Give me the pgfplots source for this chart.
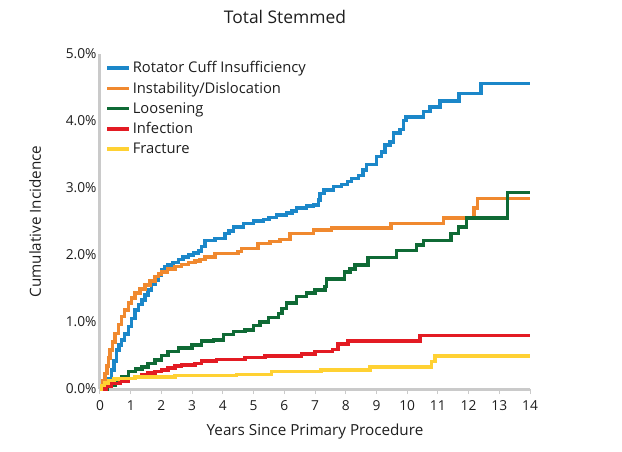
\documentclass[border=0pt]{standalone}
\usepackage{pgfplots}
\pgfplotsset{compat=1.18}
\usepackage{fontspec}
\setmainfont{Open Sans}
\definecolor{cblue}{HTML}{1B87C9}
\definecolor{corange}{HTML}{F0892F}
\definecolor{cgreen}{HTML}{0F6A35}
\definecolor{cred}{HTML}{E31B23}
\definecolor{cyellow}{HTML}{FFD133}
\definecolor{axisgray}{HTML}{CACACA}
\definecolor{txt}{HTML}{1E1E1E}
\begin{document}
\begin{tikzpicture}
\path[use as bounding box] (-100bp,-63bp) rectangle (522bp,389bp);
\begin{axis}[
  scale only axis, width=430bp, height=335bp,
  xmin=0, xmax=14, ymin=0, ymax=5,
  axis x line*=bottom, axis y line*=left,
  axis line style={draw=axisgray, line width=3bp},
  xtick={0,1,...,14}, ytick={0,1,2,3,4,5},
  yticklabels={0.0\%,1.0\%,2.0\%,3.0\%,4.0\%,5.0\%},
  /pgf/number format/assume math mode=true,
  tick label style={font=\fontsize{13.8}{16}\selectfont, text=txt},
  xticklabel style={yshift=-3bp},
  xtick align=outside, major tick length=5bp,
  x tick style={draw=axisgray, line width=1bp},
  y tick style={draw=none},
  xlabel={Years Since Primary Procedure},
  ylabel={Cumulative Incidence},
  xlabel style={at={(axis description cs:0.5,-0.128)}, anchor=center, font=\fontsize{15.3}{18}\selectfont, text=txt},
  ylabel style={at={(axis description cs:-0.151,0.5)}, anchor=center, rotate=0, font=\fontsize{15.3}{18}\selectfont, text=txt},
  clip=false,
  const plot,
  every axis plot/.append style={line width=3.5bp},
  legend style={at={(0.005,0.99)}, anchor=north west, draw=none, fill=none,
    font=\fontsize{14.8}{17}\selectfont, text=txt, row sep=3.7bp},
  legend cell align=left,
  legend image code/.code={\draw[#1, line width=3.5bp] (0bp,0bp) -- (22bp,0bp);},
]
\addplot[cblue] coordinates {
(0,0) (0.08,0.03) (0.16,0.08) (0.25,0.15) (0.38,0.28) (0.46,0.42) (0.54,0.58) (0.62,0.66)
(0.70,0.73) (0.80,0.82) (0.92,0.93) (1.02,1.05) (1.14,1.18) (1.25,1.26) (1.36,1.33) (1.46,1.40)
(1.57,1.48) (1.68,1.56) (1.79,1.63) (1.90,1.70) (2.01,1.78) (2.12,1.82) (2.22,1.85) (2.38,1.89)
(2.55,1.93) (2.70,1.97) (2.88,2.00) (3.05,2.03) (3.20,2.06) (3.30,2.13) (3.42,2.22) (3.74,2.25)
(4.07,2.32) (4.20,2.36) (4.34,2.42) (4.67,2.47) (4.99,2.51) (5.32,2.53) (5.50,2.56) (5.75,2.60)
(6.08,2.63) (6.25,2.66) (6.40,2.70) (6.73,2.73) (6.95,2.75) (7.11,2.82) (7.16,2.92) (7.30,2.97)
(7.60,3.02) (7.87,3.05) (8.05,3.10) (8.19,3.14) (8.41,3.19) (8.57,3.27) (8.68,3.35) (9.00,3.47)
(9.17,3.54) (9.28,3.64) (9.44,3.69) (9.55,3.82) (9.77,3.87) (9.88,4.01) (9.97,4.06) (10.53,4.14)
(10.75,4.21) (11.07,4.30) (11.69,4.41) (12.41,4.56) (14.0,4.56)
};
\addlegendentry{Rotator Cuff Insufficiency}
\addplot[corange] coordinates {
(0,0) (0.05,0.05) (0.10,0.13) (0.16,0.23) (0.22,0.34) (0.28,0.46) (0.33,0.58) (0.41,0.70)
(0.49,0.83) (0.60,0.96) (0.70,1.08) (0.80,1.18) (0.92,1.28) (1.03,1.36) (1.14,1.43) (1.30,1.49)
(1.47,1.55) (1.62,1.61) (1.79,1.68) (1.90,1.72) (2.01,1.75) (2.20,1.79) (2.44,1.83) (2.65,1.86)
(2.88,1.89) (3.10,1.91) (3.26,1.93) (3.42,1.97) (3.74,2.02) (4.50,2.05) (4.60,2.10) (5.15,2.17)
(5.53,2.20) (5.86,2.23) (6.19,2.32) (6.95,2.37) (7.54,2.40) (9.48,2.47) (11.18,2.55) (12.18,2.70)
(12.29,2.84) (14.0,2.84)
};
\addlegendentry{Instability/Dislocation}
\addplot[cgreen] coordinates {
(0,0) (0.25,0.05) (0.49,0.11) (0.70,0.18) (0.92,0.26) (1.15,0.30) (1.36,0.33) (1.57,0.38)
(1.79,0.43) (2.00,0.50) (2.22,0.56) (2.55,0.61) (2.99,0.66) (3.31,0.72) (3.69,0.73) (4.02,0.81)
(4.34,0.86) (4.72,0.88) (4.99,0.95) (5.21,1.00) (5.48,1.07) (5.81,1.13) (5.92,1.20) (6.08,1.28)
(6.40,1.38) (6.73,1.43) (7.00,1.48) (7.32,1.53) (7.38,1.64) (7.96,1.75) (8.14,1.79) (8.30,1.85)
(8.72,1.96) (9.66,2.07) (10.31,2.15) (10.53,2.22) (11.42,2.32) (11.67,2.42) (11.94,2.55) (13.27,2.93)
(14.0,2.93)
};
\addlegendentry{Loosening}
\addplot[cred] coordinates {
(0,0) (0.20,0.04) (0.38,0.08) (0.65,0.12) (0.92,0.16) (1.15,0.19) (1.36,0.21) (1.57,0.24)
(1.79,0.26) (2.00,0.28) (2.22,0.31) (2.45,0.34) (2.66,0.36) (3.09,0.38) (3.30,0.42) (3.80,0.44)
(4.72,0.47) (5.37,0.49) (6.56,0.52) (7.00,0.56) (7.57,0.59) (7.75,0.67) (8.07,0.72) (10.42,0.80)
(14.0,0.80)
};
\addlegendentry{Infection}
\addplot[cyellow] coordinates {
(0,0) (0.05,0.05) (0.15,0.09) (0.27,0.13) (0.45,0.15) (0.60,0.16) (1.14,0.18) (2.44,0.20)
(4.45,0.22) (5.59,0.26) (7.20,0.28) (8.79,0.33) (10.80,0.41) (10.90,0.49) (14.0,0.49)
};
\addlegendentry{Fracture}
\end{axis}
\node[font=\fontsize{17.5}{20}\selectfont, text=txt] at (185bp,372bp) {Total Stemmed};
\end{tikzpicture}
\end{document}
